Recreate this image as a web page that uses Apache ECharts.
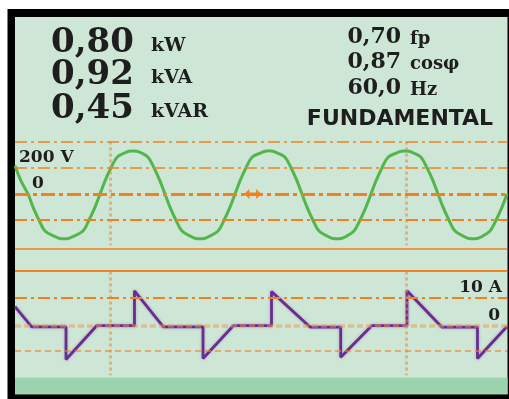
<!DOCTYPE html>
<html>
<head>
<meta charset="utf-8">
<script src="https://cdn.jsdelivr.net/npm/echarts@6/dist/echarts.min.js"></script>
<style>
  html, body { margin: 0; padding: 0; background: #ffffff; }
  #chart { width: 509px; height: 399px; }
</style>
</head>
<body>
<div id="chart"></div>
<script>
// Meter readings shown in the header
const leftValues  = ['0,80', '0,92', '0,45'];
const leftUnits   = ['kW', 'kVA', 'kVAR'];
const rightValues = ['0,70', '0,87', '60,0'];
const rightUnits  = ['fp', 'cosφ', 'Hz'];
const modeLabel   = 'FUNDAMENTAL';

// Voltage trace: time (ms) and instantaneous voltage (V)
const voltTime = [
  0.00, 0.73, 1.59, 2.20, 2.93, 3.66, 5.00, 5.49, 5.98, 6.46, 6.95, 8.29, 9.02, 9.76, 10.37,
  10.98, 11.71, 12.44, 13.41, 13.90, 14.39, 14.88, 15.37, 16.22, 16.95, 17.68, 18.29,
  18.90, 19.63, 20.37, 21.59, 22.07, 22.56, 23.05, 23.54, 24.76, 25.49, 26.22, 26.83,
  27.44, 28.17, 28.90, 30.00, 30.49, 30.98, 31.46, 31.95, 32.93, 33.66, 34.39, 35.00,
  35.61, 36.34, 37.07, 38.29, 38.78, 39.27, 39.76, 40.24, 41.34, 42.07, 42.80, 43.41,
  44.02, 44.76, 45.49, 46.59, 47.07, 47.56, 48.05, 48.54, 49.51, 50.24, 50.98, 51.59,
  52.20, 52.93, 53.66, 54.88, 55.37, 55.85, 56.34, 56.83, 57.93, 58.66, 59.39, 60.00
];
const voltValue = [
  215, 100, 0, -100, -200, -282, -328, -339, -342, -339, -328, -282, -200, -100, 0,
  100, 200, 280, 314, 326, 328, 326, 314, 280, 200, 100, 0,
  -100, -200, -282, -328, -339, -342, -339, -328, -282, -200, -100, 0,
  100, 200, 280, 314, 326, 329, 326, 314, 280, 200, 100, 0,
  -100, -200, -282, -328, -339, -342, -339, -328, -282, -200, -100, 0,
  100, 200, 280, 314, 326, 328, 326, 314, 280, 200, 100, 0,
  -100, -200, -282, -328, -339, -342, -339, -328, -282, -200, -100, 0
];

// Current trace: time (ms) and instantaneous current (A)
const currTime = [
  0.00, 2.04, 6.22, 6.22, 9.96, 14.57, 14.57, 18.09, 22.93, 22.93, 26.62,
  31.28, 31.28, 35.98, 39.72, 39.72, 43.50, 47.80, 47.80, 52.04, 56.40, 56.40, 60.00
];
const currValue = [
  6.9, -0.4, -0.4, -12.3, 0, 0, 12.7, -0.4, -0.4, -11.9, 0,
  0, 12.4, -0.5, -0.5, -11.5, 0, 0, 12.7, -0.5, -0.5, -11.9, -0.3
];

// Scale reference levels and their captions
const voltLevels = [400, 200, 0, -200, -420];
const voltCaptions = ['200 V', '0'];
const voltCaptionLevels = [200, 0];
const currLevels = [20, 10, 0, -9];
const currCaptions = ['10 A', '0'];
const currCaptionLevels = [10, 0];
const cursorTimes = [11.6, 47.7];
const triggerTime = 29.0;

const ORANGE = '#f2801e';
const PALE = 'rgba(240,135,50,0.55)';
const TEXT = '#1e1e1e';
const NUM_FONT = '"DejaVu Serif", serif';
const SANS_FONT = '"DejaVu Sans", sans-serif';

const chart = echarts.init(document.getElementById('chart'), null, { renderer: 'canvas' });

const voltStyles = [
  { color: ORANGE, width: 1.6, type: [12, 4, 3, 4] },
  { color: ORANGE, width: 1.7, type: [12, 4, 3, 4] },
  { color: ORANGE, width: 3,   type: [14, 4, 4, 4] },
  { color: ORANGE, width: 2.2, type: [12, 4, 3, 4] },
  { color: ORANGE, width: 1.5, type: 'solid' }
];
const currStyles = [
  { color: ORANGE, width: 2, type: 'solid' },
  { color: ORANGE, width: 2.2, type: [12, 4, 3, 4] },
  { color: 'rgba(240,150,80,0.5)', width: 3.5, type: [6, 3] },
  { color: 'rgba(240,130,40,0.6)', width: 2, type: [6, 4] }
];

function cursorLines(top, bottom) {
  return cursorTimes.map(t => [
    { coord: [t, top], lineStyle: { color: PALE, width: 3, type: [3, 3] } },
    { coord: [t, bottom] }
  ]);
}

const headerGraphics = [];
leftValues.forEach((v, i) => {
  const cy = [43, 75, 109][i];
  headerGraphics.push({
    type: 'text', x: 51, y: cy,
    style: { text: v, font: 'bold 34px ' + NUM_FONT, fill: TEXT, textAlign: 'left', textVerticalAlign: 'middle' }
  });
  headerGraphics.push({
    type: 'text', x: 151, y: cy + 3,
    style: { text: leftUnits[i], font: 'bold 19px ' + NUM_FONT, fill: TEXT, textAlign: 'left', textVerticalAlign: 'middle' }
  });
});
rightValues.forEach((v, i) => {
  const cy = [37, 62, 88][i];
  headerGraphics.push({
    type: 'text', x: 401, y: cy,
    style: { text: v, font: 'bold 22px ' + NUM_FONT, fill: TEXT, textAlign: 'right', textVerticalAlign: 'middle' }
  });
  headerGraphics.push({
    type: 'text', x: 410, y: cy + 2,
    style: { text: rightUnits[i], font: 'bold 18px ' + NUM_FONT, fill: TEXT, textAlign: 'left', textVerticalAlign: 'middle' }
  });
});
headerGraphics.push({
  type: 'text', x: 400, y: 119,
  style: { text: modeLabel, font: 'bold 22px ' + SANS_FONT, fill: TEXT, textAlign: 'center', textVerticalAlign: 'middle' }
});

const frameGraphics = [
  { type: 'rect', z: -10, shape: { x: 7.5, y: 9, width: 501.5, height: 390 }, style: { fill: '#000' } },
  { type: 'rect', z: -9, shape: { x: 15, y: 17, width: 492.5, height: 377.3 }, style: { fill: '#cde6d5' } },
  { type: 'rect', z: -8, shape: { x: 15, y: 377.8, width: 492.5, height: 16.5 }, style: { fill: '#9cd3ae' } }
];

chart.setOption({
  animation: false,
  backgroundColor: '#ffffff',
  grid: [
    { left: 15, width: 492, top: 141.5, height: 107.6 },
    { left: 15, width: 492, top: 270.7, height: 104.5 }
  ],
  xAxis: [
    { gridIndex: 0, type: 'value', min: 0, max: 60, show: false },
    { gridIndex: 1, type: 'value', min: 0, max: 60, show: false }
  ],
  yAxis: [
    { gridIndex: 0, type: 'value', min: -420, max: 400, show: false },
    { gridIndex: 1, type: 'value', min: -18, max: 20, show: false }
  ],
  graphic: frameGraphics.concat(headerGraphics),
  series: [
    {
      name: 'Voltage levels', type: 'line', xAxisIndex: 0, yAxisIndex: 0, data: [], z: 1, silent: true,
      markLine: {
        symbol: 'none', silent: true, animation: false, label: { show: false },
        data: voltLevels.map((v, i) => ({ yAxis: v, lineStyle: voltStyles[i] })).concat(cursorLines(400, -390))
      }
    },
    {
      name: 'Current levels', type: 'line', xAxisIndex: 1, yAxisIndex: 1, data: [], z: 1, silent: true,
      markLine: {
        symbol: 'none', silent: true, animation: false, label: { show: false },
        data: currLevels.map((v, i) => ({ yAxis: v, lineStyle: currStyles[i] })).concat(cursorLines(19.7, -18))
      }
    },
    {
      name: 'Voltage', type: 'line', xAxisIndex: 0, yAxisIndex: 0, z: 3,
      data: voltTime.map((t, i) => [t, voltValue[i]]),
      showSymbol: false, smooth: 0.35,
      lineStyle: { color: '#52b64c', width: 3 },
      markPoint: {
        silent: true, animation: false,
        symbol: 'path://M0,5 L6,0 L6,3.5 L14,3.5 L14,0 L20,5 L14,10 L14,6.5 L6,6.5 L6,10 Z',
        symbolSize: [17, 10],
        itemStyle: { color: ORANGE },
        label: { show: false },
        data: [{ coord: [triggerTime, 0] }]
      }
    },
    {
      name: 'Current', type: 'line', xAxisIndex: 1, yAxisIndex: 1, z: 3,
      data: currTime.map((t, i) => [t, currValue[i]]),
      showSymbol: false,
      lineStyle: { color: '#6a2c91', width: 2.8, shadowColor: 'rgba(106,44,145,0.35)', shadowBlur: 3 }
    }
  ]
});

// Scale captions, placed from the axis scale
const captionGraphics = [];
voltCaptions.forEach((txt, i) => {
  const p = chart.convertToPixel({ gridIndex: 0 }, [0, voltCaptionLevels[i]]);
  captionGraphics.push({
    type: 'text', x: p[0] + (i === 0 ? 4 : 17), y: p[1] - 2,
    style: { text: txt, font: 'bold 17px ' + NUM_FONT, fill: TEXT, textAlign: 'left', textVerticalAlign: 'bottom' }
  });
});
currCaptions.forEach((txt, i) => {
  const p = chart.convertToPixel({ gridIndex: 1 }, [60, currCaptionLevels[i]]);
  captionGraphics.push({
    type: 'text', x: p[0] - (i === 0 ? 5 : 7), y: p[1] - 2,
    style: { text: txt, font: 'bold 17px ' + NUM_FONT, fill: TEXT, textAlign: 'right', textVerticalAlign: 'bottom' }
  });
});
chart.setOption({ graphic: frameGraphics.concat(headerGraphics, captionGraphics) });
</script>
</body>
</html>
